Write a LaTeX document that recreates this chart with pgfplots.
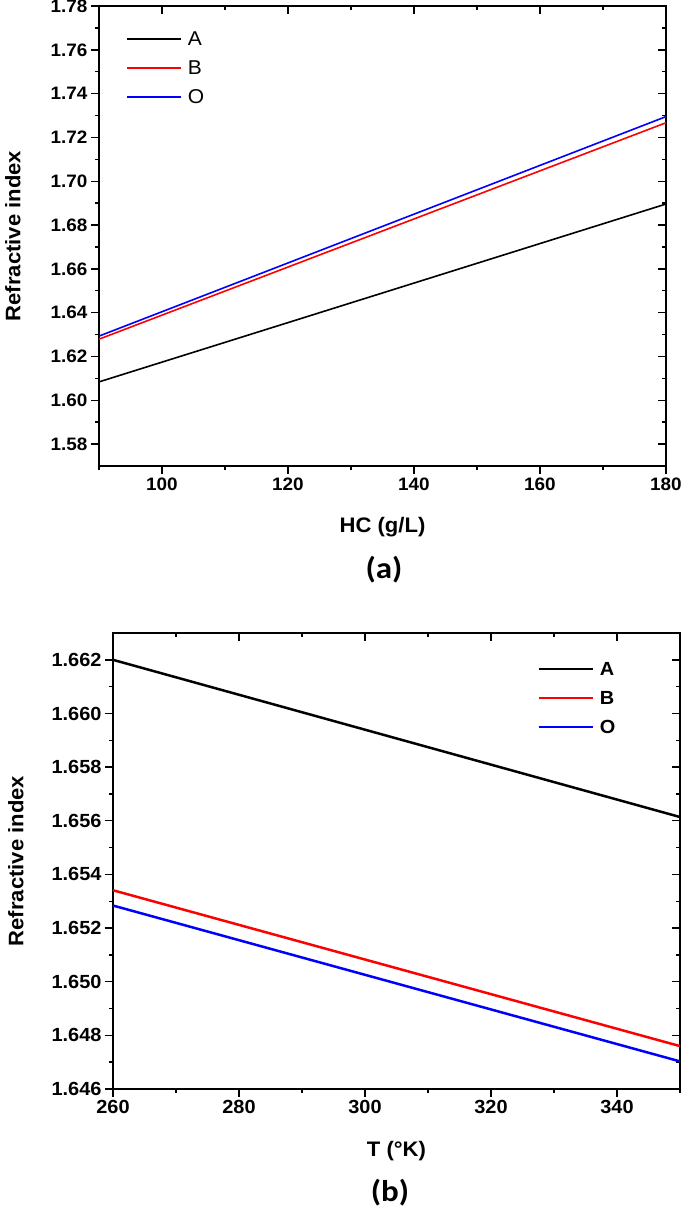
\documentclass[border=0pt]{standalone}
\usepackage{pgfplots}
\pgfplotsset{compat=1.18}
\usepackage{fontspec}
\setmainfont{Liberation Sans}[FakeStretch=1.05]
\newfontfamily\capfont{Carlito}[FakeStretch=1.1]

\pgfplotsset{
 mystyle/.style={
  scale only axis,
  axis line style={line width=1.6pt},
  every tick/.style={line width=1.4pt, black},
  major tick length=8pt, minor tick length=4pt,
  tick align=outside,
  xtick pos=left, ytick pos=left,
  label style={font=\bfseries\fontsize{21}{21}\selectfont},
  /pgf/number format/assume math mode=true,
  legend cell align=left,
  legend image code/.code={\draw[#1] (0pt,0pt) -- (54pt,0pt); \path (59pt,0pt);},
 },
 mirror/.style={
  scale only axis,
  axis line style={line width=1.6pt},
  every tick/.style={line width=1.4pt, black},
  major tick length=8pt, minor tick length=4pt,
  tick align=inside,
  xtick pos=right, ytick pos=right,
  xticklabels={}, yticklabels={},
 },
}

\begin{document}
\begin{tikzpicture}
\path[use as bounding box] (0pt,0pt) rectangle (685pt,-1213pt);

% ---------------- panel (a)
\begin{axis}[mirror, at={(99pt,-466pt)}, anchor=south west, width=567pt, height=460pt,
  xmin=90, xmax=180, ymin=1.57, ymax=1.78,
  xtick={100,120,140,160,180}, minor xtick={90,110,130,150,170},
  ytick={1.58,1.60,1.62,1.64,1.66,1.68,1.70,1.72,1.74,1.76,1.78},
  minor ytick={1.59,1.61,1.63,1.65,1.67,1.69,1.71,1.73,1.75,1.77}]
\end{axis}
\begin{axis}[mystyle, at={(99pt,-466pt)}, anchor=south west, width=567pt, height=460pt,
  xmin=90, xmax=180, ymin=1.57, ymax=1.78,
  tick label style={font=\bfseries\fontsize{18}{18}\selectfont},
  xtick={100,120,140,160,180}, minor xtick={90,110,130,150,170},
  ytick={1.58,1.60,1.62,1.64,1.66,1.68,1.70,1.72,1.74,1.76,1.78},
  minor ytick={1.59,1.61,1.63,1.65,1.67,1.69,1.71,1.73,1.75,1.77},
  yticklabel style={/pgf/number format/.cd, fixed, fixed zerofill, precision=2},
  xlabel={HC (g/L)}, ylabel={Refractive index},
  xlabel style={at={(axis description cs:0.5,-0.1326)}, anchor=center},
  ylabel style={at={(axis description cs:-0.1517,0.5)}, anchor=center},
  legend style={at={(0.0476,0.9446)}, anchor=north west, draw=none, fill=none,
    inner sep=0pt, row sep=14pt,
    nodes={inner sep=1pt, text height=13pt, text depth=0pt, font=\fontsize{20}{20}\selectfont}},
]
\addplot[black, line width=1.6pt] coordinates {(90,1.6084) (180,1.6896)};
\addlegendentry{A}
\addplot[red, line width=1.6pt] coordinates {(90,1.6279) (180,1.7267)};
\addlegendentry{B}
\addplot[blue, line width=1.6pt] coordinates {(90,1.6293) (180,1.7295)};
\addlegendentry{O}
\end{axis}
\node[font=\capfont\bfseries\fontsize{30}{30}\selectfont] at (384pt,-570pt) {(a)};

% ---------------- panel (b)
\begin{axis}[mirror, at={(113pt,-1089pt)}, anchor=south west, width=567pt, height=456pt,
  xmin=260, xmax=350, ymin=1.646, ymax=1.663,
  xtick={260,280,300,320,340}, minor xtick={270,290,310,330,350},
  ytick={1.646,1.648,1.650,1.652,1.654,1.656,1.658,1.660,1.662},
  minor ytick={1.647,1.649,1.651,1.653,1.655,1.657,1.659,1.661}]
\end{axis}
\begin{axis}[mystyle, at={(113pt,-1089pt)}, anchor=south west, width=567pt, height=456pt,
  xmin=260, xmax=350, ymin=1.646, ymax=1.663,
  tick label style={font=\bfseries\fontsize{19}{19}\selectfont},
  xtick={260,280,300,320,340}, minor xtick={270,290,310,330,350},
  ytick={1.646,1.648,1.650,1.652,1.654,1.656,1.658,1.660,1.662},
  minor ytick={1.647,1.649,1.651,1.653,1.655,1.657,1.659,1.661},
  yticklabel style={/pgf/number format/.cd, fixed, fixed zerofill, precision=3},
  xlabel={T (°K)}, ylabel={Refractive index},
  xlabel style={at={(axis description cs:0.5,-0.136)}, anchor=center},
  ylabel style={at={(axis description cs:-0.1711,0.5)}, anchor=center},
  legend style={at={(0.748,0.9375)}, anchor=north west, draw=none, fill=none,
    inner sep=0pt, row sep=14pt,
    nodes={inner sep=1pt, text height=13pt, text depth=0pt, font=\bfseries\fontsize{19}{19}\selectfont}},
]
\addplot[black, line width=2.5pt] coordinates {(260,1.6620) (350,1.65614)};
\addlegendentry{A}
\addplot[red, line width=2.5pt] coordinates {(260,1.65341) (350,1.6476)};
\addlegendentry{B}
\addplot[blue, line width=2.5pt] coordinates {(260,1.65284) (350,1.64703)};
\addlegendentry{O}
\end{axis}
\node[font=\capfont\bfseries\fontsize{30}{30}\selectfont] at (390pt,-1193pt) {(b)};
\end{tikzpicture}
\end{document}
